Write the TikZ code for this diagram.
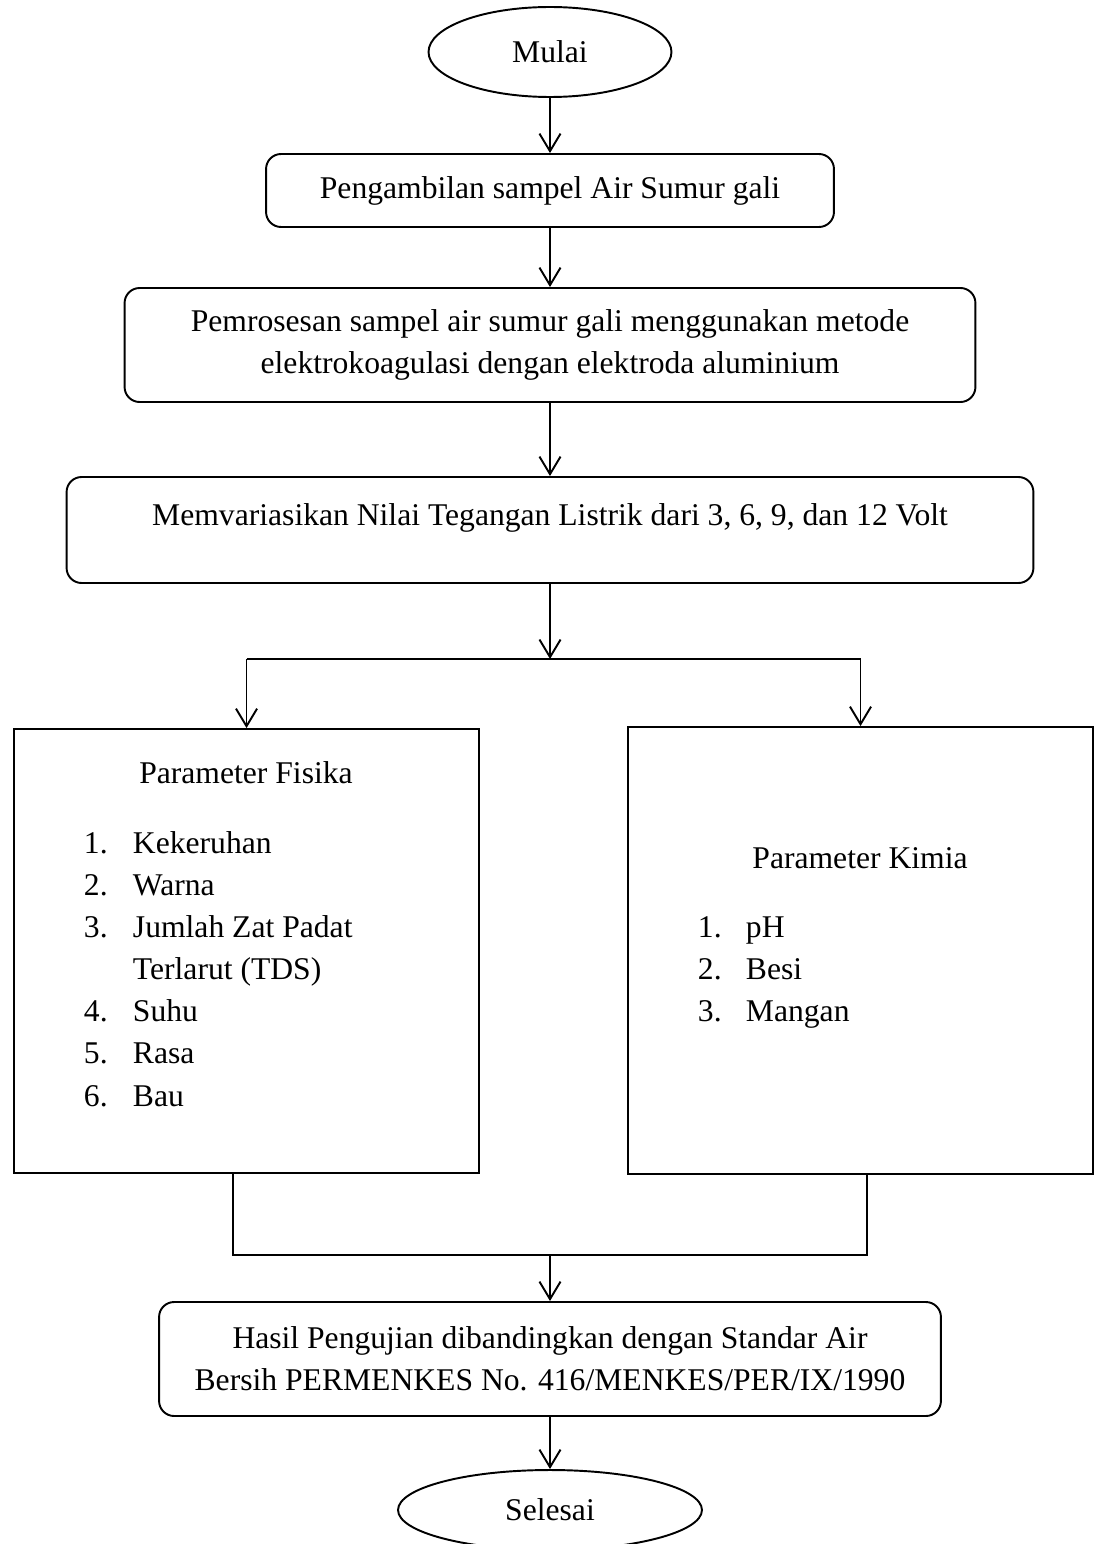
\documentclass[tikz,border=0pt]{standalone}
\usepackage{fontspec}
\setmainfont{Liberation Serif}
\usetikzlibrary{shapes.geometric}
\usetikzlibrary{arrows.meta}

\begin{document}
\begin{tikzpicture}[x=0.02cm, y=-0.02cm,
					line width=1.1pt,
					>={Straight Barb[length=10pt,width=12pt]},
					every node/.style={font=\fontsize{18}{24}\selectfont, inner sep=0pt},
					endnode/.style={ellipse, draw=black},
					roundbox/.style={rectangle, rounded corners=0.3cm, draw=black, align=center},
					parambox/.style={rectangle, draw=black, minimum width=9.3cm},
					]
					\useasboundingbox (0,0) rectangle (1095,1544);
					%Nodes
					\node[endnode, minimum width=4.86cm, minimum height=1.8cm]      (mulai)   at (550,52)     {Mulai};
					\node[roundbox, minimum width=11.36cm, minimum height=1.46cm]   (ambil)   at (550,190.5)  {Pengambilan sampel Air Sumur gali};
					\node[roundbox, minimum width=17.02cm, minimum height=2.28cm]   (proses)  at (550,345)    {Pemrosesan sampel air sumur gali menggunakan metode\\elektrokoagulasi dengan elektroda aluminium};
					\node[roundbox, minimum width=19.34cm, minimum height=2.12cm,
						text height=0.44cm, text depth=0.64cm]                       (variasi) at (550,530)    {Memvariasikan Nilai Tegangan Listrik dari 3, 6, 9, dan 12 Volt};
					\node[parambox, minimum height=8.88cm]                          (fisika)  at (246.5,951)  {};
					\node[parambox, minimum height=8.94cm]                          (kimia)   at (860.5,950.5) {};
					\node[roundbox, minimum width=15.64cm, minimum height=2.28cm]   (hasil)   at (550,1359)   {Hasil Pengujian dibandingkan dengan Standar Air\\Bersih PERMENKES No. 416/MENKES/PER/IX/1990};
					\node[endnode, minimum width=6.08cm, minimum height=1.6cm]      (selesai) at (550,1510)   {Selesai};

					%Isi parameter
					\node[anchor=base]      (judulfisika) at (246,783)  {Parameter Fisika};
					\node[anchor=base west] (listfisika)  at (83,853)   {\begin{tabular}[t]{@{}p{0.98cm}@{}l@{}}
						1. & Kekeruhan\\
						2. & Warna\\
						3. & Jumlah Zat Padat\\
						   & Terlarut (TDS)\\
						4. & Suhu\\
						5. & Rasa\\
						6. & Bau
					\end{tabular}};
					\node[anchor=base]      (judulkimia)  at (860,868)  {Parameter Kimia};
					\node[anchor=base west] (listkimia)   at (697,937)  {\begin{tabular}[t]{@{}p{0.96cm}@{}l@{}}
						1. & pH\\
						2. & Besi\\
						3. & Mangan
					\end{tabular}};

					\coordinate (split)  at (550,659);
					\coordinate (splitL) at (246.5,659);
					\coordinate (splitR) at (860.5,659);
					\coordinate (joinL)  at (233,1255);
					\coordinate (joinR)  at (867,1255);
					\coordinate (join)   at (550,1255);

					%Lines
					\draw[->] (mulai) -- (ambil);
					\draw[->] (ambil) -- (proses);
					\draw[->] (proses) -- (variasi);
					\draw[->] (variasi) -- (split);
					\draw (splitL) -- (splitR);
					\draw[->] (splitL) -- (fisika);
					\draw[->] (splitR) -- (kimia);
					\draw (fisika.south -| joinL) -- (joinL) -- (joinR) -- (kimia.south -| joinR);
					\draw[->] (join) -- (hasil);
					\draw[->] (hasil) -- (selesai);
				\end{tikzpicture}
\end{document}
